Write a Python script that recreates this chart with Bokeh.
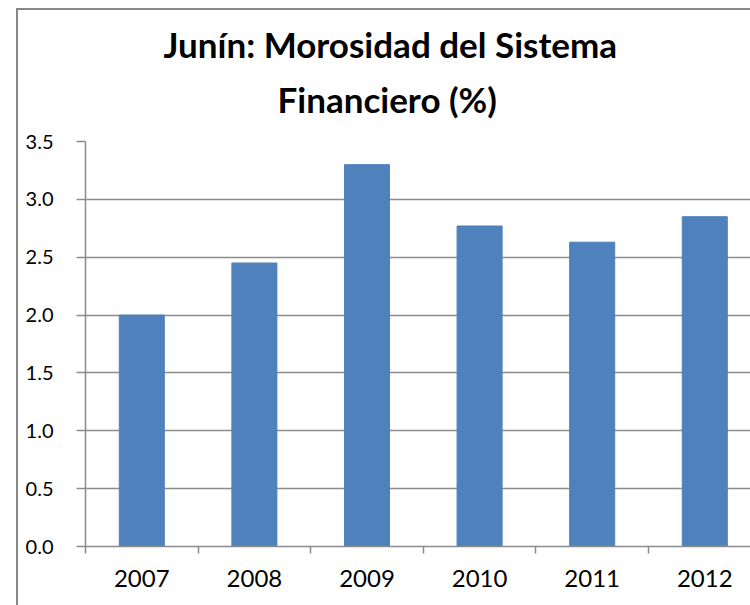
from bokeh.plotting import figure
from bokeh.models import Range1d, FixedTicker, Title, CustomJSTickFormatter
from bokeh.embed import file_html
from bokeh.resources import INLINE

years = ["2007", "2008", "2009", "2010", "2011", "2012"]
morosidad = [2.0, 2.45, 3.3, 2.77, 2.63, 2.85]
y_ticks = [0.0, 0.5, 1.0, 1.5, 2.0, 2.5, 3.0, 3.5]
title_lines = ["Junín: Morosidad del Sistema", "Financiero (%)"]

xs = list(range(len(years)))
FONT = "Lato"
GRID = "#8c8c8c"

border_css = """
:host::before { content: ""; position: absolute; left: 16px; top: 8px; right: 0px;
                height: 2px; background: #888888; z-index: 100; pointer-events: none; }
:host::after  { content: ""; position: absolute; left: 16px; top: 8px; bottom: 0px;
                width: 2px; background: #888888; z-index: 100; pointer-events: none; }
"""

p = figure(width=750, height=605, output_backend="svg", toolbar_location=None,
           x_range=Range1d(-0.5, 5.406), y_range=Range1d(0, 3.5),
           min_border_left=85, min_border_right=0, min_border_bottom=59,
           min_border_top=141,
           styles={"position": "relative"}, stylesheets=[border_css])

p.vbar(x=xs, top=morosidad, width=0.4, color="#4F81BD", line_color="#4F81BD")

p.add_layout(Title(text=title_lines[1], align="left", offset=192,
                   text_font=FONT, text_font_size="35px", text_font_style="bold",
                   text_color="#000000", standoff=44), "above")
p.add_layout(Title(text=title_lines[0], align="left", offset=78,
                   text_font=FONT, text_font_size="35px", text_font_style="bold",
                   text_color="#000000", standoff=-22), "above")

p.outline_line_color = None
p.xgrid.visible = False
p.ygrid.grid_line_color = GRID
p.ygrid.grid_line_width = 1.5

p.yaxis.ticker = FixedTicker(ticks=y_ticks)
p.yaxis.formatter = CustomJSTickFormatter(code="return tick.toFixed(1);")
p.yaxis.axis_line_color = GRID
p.yaxis.axis_line_width = 1.5
p.yaxis.major_tick_line_color = GRID
p.yaxis.major_tick_line_width = 1.5
p.yaxis.major_tick_out = 9
p.yaxis.major_tick_in = 0
p.yaxis.minor_tick_line_color = None
p.yaxis.major_label_text_font = FONT
p.yaxis.major_label_text_font_size = "20px"
p.yaxis.major_label_text_color = "#000000"
p.yaxis.major_label_standoff = 23

boundaries = [i - 0.5 for i in range(len(years) + 1)]
p.xaxis.ticker = FixedTicker(ticks=xs, minor_ticks=boundaries)
p.xaxis.major_label_overrides = {i: y for i, y in enumerate(years)}
p.xaxis.axis_line_color = GRID
p.xaxis.axis_line_width = 1.5
p.xaxis.major_tick_line_color = None
p.xaxis.major_tick_out = 0
p.xaxis.major_tick_in = 0
p.xaxis.minor_tick_line_color = GRID
p.xaxis.minor_tick_line_width = 1.5
p.xaxis.minor_tick_out = 7
p.xaxis.minor_tick_in = 0
p.xaxis.major_label_text_font = FONT
p.xaxis.major_label_text_font_size = "24px"
p.xaxis.major_label_text_color = "#000000"
p.xaxis.major_label_standoff = 16

open("out.html", "w").write(file_html(p, INLINE))
